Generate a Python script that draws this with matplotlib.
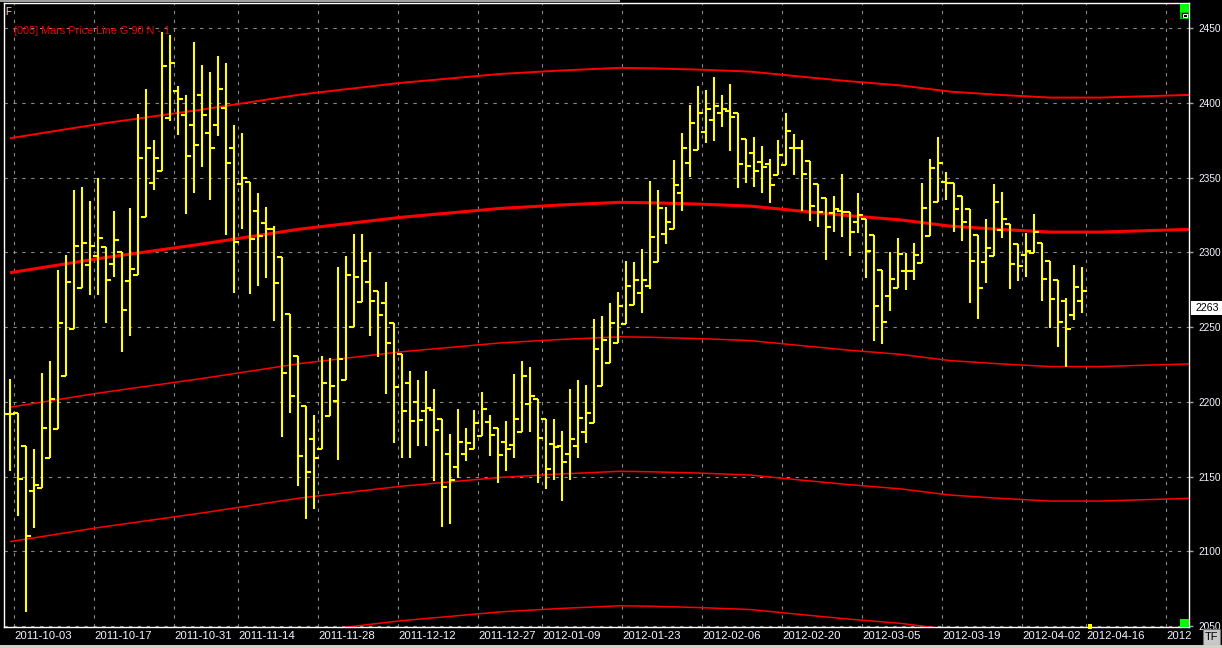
import matplotlib
matplotlib.use('Agg')
import matplotlib.pyplot as plt
from matplotlib.patches import Rectangle

plt.rcParams['font.family'] = ['Liberation Sans', 'DejaVu Sans']

# ---------------- data ----------------
opens = [2192.0, 2192.3, 2170.6, 2140.5, 2142.1, 2162.6, 2181.8, 2217.2, 2248.7, 2276.4,
         2291.5, 2297.6, 2303.8, 2292.4, 2300.4, 2280.8, 2284.8, 2323.9, 2346.6, 2354.7,
         2390.0, 2408.2, 2392.0, 2385.0, 2405.0, 2380.0, 2385.0, 2396.4, 2370.0, 2345.5,
         2347.3, 2327.7, 2319.4, 2315.4, 2297.1, 2258.5, 2230.8, 2197.4, 2175.3, 2168.4,
         2190.4, 2200.5, 2214.6, 2250.0, 2267.0, 2280.4, 2274.4, 2266.3, 2252.9, 2231.7,
         2212.8, 2200.0, 2194.0, 2194.5, 2188.2, 2165.0, 2156.5, 2165.0, 2168.4, 2177.1,
         2186.7, 2182.2, 2173.3, 2171.1, 2180.0, 2198.7, 2201.6, 2188.7, 2171.9, 2170.6,
         2165.0, 2170.6, 2180.0, 2186.0, 2210.5, 2225.7, 2239.1, 2252.0, 2264.8, 2273.0,
         2277.7, 2293.8, 2312.1, 2315.6, 2340.0, 2360.0, 2368.5, 2380.8, 2388.6, 2393.5,
         2394.8, 2393.0, 2375.9, 2366.7, 2360.7, 2359.1, 2351.8, 2358.5, 2369.6, 2369.6,
         2361.4, 2345.7, 2336.6, 2326.6, 2327.9, 2327.2, 2320.5, 2322.3, 2311.6, 2288.2,
         2271.0, 2276.0, 2287.5, 2287.5, 2292.6, 2310.9, 2333.9, 2347.3, 2346.6, 2337.7,
         2329.0, 2311.6, 2293.8, 2297.6, 2315.0, 2319.0, 2305.6, 2298.2, 2299.8, 2306.5,
         2294.4, 2281.5, 2267.4, 2258.1, 2267.6]
highs = [2215.0, 2192.3, 2170.6, 2168.4, 2219.0, 2227.3, 2288.2, 2298.2, 2341.7, 2343.5,
         2334.4, 2349.8, 2303.8, 2327.7, 2300.4, 2329.5, 2392.6, 2409.3, 2375.0, 2447.3,
         2445.5, 2411.3, 2405.3, 2441.0, 2425.4, 2420.9, 2431.4, 2427.0, 2385.0, 2380.0,
         2347.3, 2339.9, 2330.1, 2317.6, 2297.1, 2258.5, 2230.8, 2197.4, 2191.1, 2230.6,
         2229.3, 2290.2, 2297.5, 2312.3, 2312.3, 2300.0, 2274.4, 2279.9, 2252.9, 2231.7,
         2220.6, 2214.6, 2220.6, 2208.5, 2188.2, 2178.4, 2195.1, 2182.2, 2194.5, 2206.3,
         2191.1, 2182.2, 2187.1, 2218.6, 2227.3, 2223.3, 2201.6, 2188.7, 2188.5, 2180.6,
         2208.5, 2214.6, 2211.2, 2255.4, 2257.4, 2266.3, 2273.4, 2294.2, 2293.5, 2302.2,
         2348.0, 2342.0, 2330.6, 2362.0, 2380.0, 2398.6, 2411.3, 2408.7, 2417.1, 2405.3,
         2412.7, 2393.0, 2375.9, 2377.0, 2371.2, 2362.5, 2375.2, 2393.0, 2379.2, 2375.2,
         2361.4, 2345.7, 2336.6, 2337.7, 2352.4, 2327.2, 2339.5, 2322.3, 2311.6, 2288.2,
         2300.2, 2309.4, 2299.3, 2306.0, 2346.2, 2362.3, 2377.0, 2353.6, 2346.6, 2337.7,
         2329.0, 2311.6, 2322.1, 2345.5, 2340.2, 2319.0, 2305.6, 2313.2, 2325.4, 2306.5,
         2294.4, 2281.5, 2269.2, 2291.5, 2290.4]
lows = [2153.9, 2123.8, 2059.5, 2115.7, 2142.1, 2162.6, 2181.8, 2217.2, 2248.7, 2276.4,
        2271.7, 2271.7, 2253.0, 2283.7, 2233.1, 2244.2, 2284.8, 2323.9, 2341.7, 2354.7,
        2388.0, 2378.5, 2325.4, 2340.0, 2357.3, 2335.0, 2378.0, 2311.6, 2273.0, 2315.4,
        2271.9, 2277.7, 2283.1, 2254.3, 2176.2, 2192.3, 2143.6, 2121.3, 2128.0, 2168.4,
        2190.4, 2160.8, 2214.6, 2250.0, 2267.0, 2244.2, 2230.2, 2205.0, 2172.6, 2162.6,
        2162.1, 2170.6, 2170.6, 2147.2, 2115.9, 2117.9, 2149.2, 2160.6, 2168.4, 2177.1,
        2163.9, 2145.4, 2153.9, 2162.1, 2180.0, 2180.0, 2145.8, 2141.4, 2148.0, 2133.8,
        2148.0, 2162.1, 2172.2, 2186.0, 2210.5, 2225.7, 2239.1, 2252.0, 2264.8, 2259.6,
        2275.2, 2293.8, 2305.4, 2315.6, 2328.0, 2350.2, 2368.5, 2373.0, 2374.7, 2384.1,
        2368.0, 2343.3, 2346.2, 2344.0, 2339.5, 2333.3, 2351.8, 2358.5, 2351.8, 2327.9,
        2321.2, 2317.2, 2294.9, 2313.8, 2310.0, 2297.8, 2313.2, 2283.1, 2240.9, 2238.4,
        2261.0, 2275.9, 2274.8, 2281.5, 2292.6, 2310.9, 2333.5, 2335.0, 2313.8, 2307.8,
        2265.9, 2255.4, 2279.3, 2297.6, 2309.4, 2275.2, 2281.0, 2283.7, 2299.8, 2267.7,
        2249.1, 2236.9, 2223.5, 2254.7, 2259.6]
closes = [2192.0, 2148.5, 2110.4, 2144.5, 2182.6, 2201.7, 2252.9, 2280.4, 2304.5, 2306.5,
          2304.5, 2309.6, 2281.5, 2308.3, 2261.4, 2288.7, 2363.3, 2370.0, 2363.4, 2424.9,
          2426.5, 2402.4, 2364.7, 2372.0, 2392.0, 2370.0, 2409.1, 2360.0, 2307.1, 2350.0,
          2308.9, 2310.9, 2315.6, 2279.7, 2219.5, 2204.0, 2163.9, 2153.2, 2162.1, 2212.8,
          2210.8, 2228.8, 2285.1, 2283.5, 2294.4, 2267.7, 2258.1, 2239.5, 2210.1, 2194.0,
          2187.3, 2187.8, 2196.0, 2181.1, 2143.2, 2147.6, 2173.3, 2172.6, 2186.0, 2195.1,
          2177.7, 2164.4, 2168.6, 2188.5, 2217.5, 2204.1, 2175.9, 2155.2, 2169.9, 2159.9,
          2175.3, 2189.4, 2192.2, 2235.5, 2241.3, 2252.9, 2264.3, 2277.7, 2281.5, 2281.5,
          2310.5, 2330.0, 2320.5, 2345.0, 2370.0, 2386.8, 2393.5, 2395.9, 2398.2, 2395.9,
          2390.8, 2359.1, 2357.8, 2354.7, 2357.3, 2345.1, 2365.2, 2381.4, 2369.6, 2352.4,
          2331.0, 2327.2, 2317.2, 2329.0, 2327.2, 2313.8, 2325.0, 2301.1, 2264.3, 2253.6,
          2282.2, 2298.9, 2287.5, 2298.2, 2329.7, 2356.7, 2360.0, 2346.2, 2329.0, 2320.5,
          2294.4, 2276.4, 2302.7, 2333.9, 2322.5, 2292.2, 2291.1, 2300.9, 2313.4, 2282.2,
          2268.8, 2253.2, 2248.9, 2277.0, 2274.4]

# Mars price line (centre) sampled along the bar index, and the band offsets
mars_idx = [0, 11.25, 23.75, 36.25, 48.75, 61.25, 68.75, 76.25, 80, 86.25, 92.5,
            98.75, 105, 111.25, 117.5, 123.75, 130, 136.25, 147.5]
mars_mid = [2286.4, 2296.0, 2305.4, 2315.6, 2323.4, 2329.4, 2331.7, 2333.5, 2333.2,
            2332.3, 2331.0, 2327.7, 2324.5, 2321.8, 2317.6, 2315.4, 2313.6, 2313.6, 2315.4]
band_offsets = [90, 0, -90, -180, -270]

date_tick_pos = [0.5, 10.5, 20.5, 28.5, 38.5, 48.5, 58.5, 66.5, 76.5, 86.5, 96.5,
                 106.5, 116.5, 126.5, 134.5, 144.5]
date_labels = ['2011-10-03', '2011-10-17', '2011-10-31', '2011-11-14', '2011-11-28',
               '2011-12-12', '2011-12-27', '2012-01-09', '2012-01-23', '2012-02-06',
               '2012-02-20', '2012-03-05', '2012-03-19', '2012-04-02', '2012-04-16', '2012']
price_ticks = [2050, 2100, 2150, 2200, 2250, 2300, 2350, 2400, 2450]
last_price = 2263
title = '[005] Mars Price Line G 90 N - 1'

# ---------------- figure ----------------
W, H = 1222, 648
fig = plt.figure(figsize=(W / 100, H / 100), dpi=100, facecolor='black')
ax = fig.add_axes([4 / W, 21 / H, 1185 / W, 624 / H], facecolor='black')
ax.set_xlim(-0.75, 147.375)
ax.set_ylim(2049.3, 2466.9)

# grid
ax.set_axisbelow(True)
ax.set_xticks(date_tick_pos)
ax.set_xticklabels(date_labels)
ax.set_yticks(price_ticks)
ax.grid(True, color='#8a8a8a', linestyle=(0, (3, 5)), linewidth=0.8)

for s in ax.spines.values():
    s.set_color('white')
    s.set_linewidth(1.0)

ax.yaxis.tick_right()
ax.tick_params(axis='y', colors='#a0a0a0', labelcolor='#f4f4ff', length=3, width=1,
               pad=4, labelsize=7.3)
ax.tick_params(axis='x', length=0, pad=3, labelcolor='#f4f4ff', labelsize=8.2)
for lab in ax.get_xticklabels():
    lab.set_ha('left')

# Mars bands
widths = {90: 1.4, 0: 2.2, -90: 1.1, -180: 1.1, -270: 1.1}
for off in band_offsets:
    ax.plot(mars_idx, [v + off for v in mars_mid], color='#ff0000',
            linewidth=widths[off], zorder=2, solid_capstyle='butt')

# OHLC bars
idx = list(range(len(opens)))
yel = '#ffff00'
vl = ax.vlines(idx, lows, highs, color=yel, linewidth=1.5, zorder=3)
vl.set_capstyle('butt')
ho = ax.hlines(opens, [i - 0.6 for i in idx], idx, color=yel, linewidth=1.5, zorder=3)
hc = ax.hlines(closes, idx, [i + 0.6 for i in idx], color=yel, linewidth=1.5, zorder=3)
ho.set_capstyle('butt')
hc.set_capstyle('butt')

# title text
fig.text(14 / W, 1 - 30.7 / H, title, color='#ee0000', fontsize=7.8,
         ha='left', va='center')


def rect_px(x0, y0, x1, y1, **kw):
    fig.patches.append(Rectangle((x0 / W, 1 - y1 / H), (x1 - x0) / W, (y1 - y0) / H,
                                 transform=fig.transFigure, **kw))


# last price box
yp = ax.transData.transform((0, last_price))[1]
ypx = H - yp
rect_px(1191, ypx - 7, 1223, ypx + 7, facecolor='white', edgecolor='none', zorder=5)
fig.text(1195 / W, yp / H, str(last_price), color='black', fontsize=7.7,
         ha='left', va='center', zorder=6)

# decorations
rect_px(1180, 4, 1189, 12, facecolor='#00ff00', edgecolor='none', zorder=5)
rect_px(1180, 12, 1189, 19, facecolor='#00c000', edgecolor='none', zorder=5)
rect_px(1181.5, 13, 1187.5, 18, facecolor='black', edgecolor='none', zorder=6)
rect_px(1182.5, 14, 1186.5, 17, facecolor='none', edgecolor='white', linewidth=0.7, zorder=7)
rect_px(1180, 619, 1189, 627, facecolor='#00ff00', edgecolor='none', zorder=5)
rect_px(1088, 624, 1092, 629, facecolor='#ffff00', edgecolor='none', zorder=5)
rect_px(1203, 629, 1220, 645, facecolor='#c8c8c8', edgecolor='#707070', linewidth=0.8, zorder=5)
fig.text(1211.5 / W, 1 - 637 / H, 'TF', color='black', fontsize=8, ha='center',
         va='center', zorder=6)
rect_px(0, 645, W, 648, facecolor='#d4d0c8', edgecolor='none', zorder=5)
rect_px(0, 0, 620, 1.5, facecolor='#a0a0a0', edgecolor='none', zorder=5)
fig.text(5 / W, 1 - 12 / H, 'F', color='#f0e0c0', fontsize=7, ha='left', va='center')

fig.savefig('out.png', dpi=100, facecolor='black')
